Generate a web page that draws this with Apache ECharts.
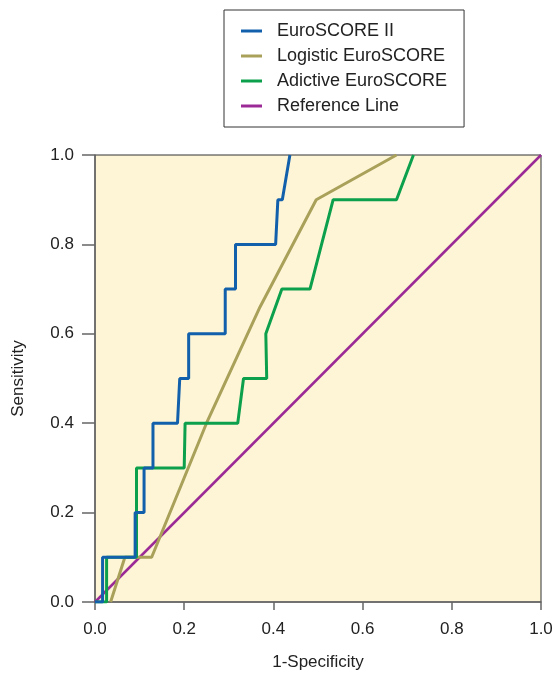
<!DOCTYPE html>
<html>
<head>
<meta charset="utf-8">
<script src="https://cdn.jsdelivr.net/npm/echarts@6/dist/echarts.min.js"></script>
<style>html,body{margin:0;padding:0;background:#fff}#c{width:552px;height:673px}</style>
</head>
<body>
<div id="c"></div>
<script>
var seriesNames = ['EuroSCORE II', 'Logistic EuroSCORE', 'Adictive EuroSCORE', 'Reference Line'];
var ticks = [0, 0.2, 0.4, 0.6, 0.8, 1.0];

var euro2X = [0, 0.017, 0.017, 0.09, 0.09, 0.11, 0.11, 0.13, 0.13, 0.185, 0.19, 0.21, 0.21, 0.292, 0.292, 0.315, 0.315, 0.405, 0.41, 0.42, 0.437];
var euro2Y = [0, 0, 0.1, 0.1, 0.2, 0.2, 0.3, 0.3, 0.4, 0.4, 0.5, 0.5, 0.6, 0.6, 0.7, 0.7, 0.8, 0.8, 0.9, 0.9, 1.0];

var logX = [0.035, 0.067, 0.127, 0.198, 0.25, 0.37, 0.496, 0.676];
var logY = [0, 0.1, 0.1, 0.273, 0.4, 0.66, 0.9, 1.0];

var addX = [0, 0.026, 0.026, 0.093, 0.093, 0.2, 0.202, 0.32, 0.333, 0.385, 0.383, 0.419, 0.482, 0.534, 0.676, 0.714];
var addY = [0, 0, 0.1, 0.1, 0.3, 0.3, 0.4, 0.4, 0.5, 0.5, 0.6, 0.7, 0.7, 0.9, 0.9, 1.0];

var refX = [0, 1];
var refY = [0, 1];

var colors = ['#1260AC', '#A9A05A', '#0CA04C', '#9B2A96'];

function zip(xs, ys) { return xs.map(function (x, i) { return [x, ys[i]]; }); }

var chart = echarts.init(document.getElementById('c'), null, {renderer: 'canvas'});
var fontFam = 'Liberation Sans, Arial, sans-serif';
chart.setOption({
  animation: false,
  backgroundColor: '#ffffff',
  color: colors,
  legend: {
    orient: 'vertical',
    left: 224, top: 10,
    padding: [12, 17, 12, 17],
    itemGap: 7,
    itemWidth: 21, itemHeight: 3,
    icon: 'rect',
    borderColor: '#333', borderWidth: 1,
    textStyle: {fontSize: 18, color: '#222', fontFamily: fontFam, padding: [0, 0, 0, 10]},
    data: seriesNames
  },
  grid: {left: 95, right: 11, top: 155, bottom: 71, outerBoundsMode: 'none', containLabel: false, show: true, backgroundColor: '#FDF5D6', borderColor: '#333', borderWidth: 1},
  xAxis: {
    type: 'value', min: 0, max: 1, interval: 0.2,
    name: '1-Specificity', nameLocation: 'middle', nameGap: 52,
    nameTextStyle: {fontSize: 17, color: '#222', fontFamily: fontFam},
    axisLine: {show: true, lineStyle: {color: '#666', width: 1.5}},
    axisTick: {show: true, length: 8, lineStyle: {color: '#666', width: 1.5}},
    axisLabel: {margin: 19, fontSize: 17, color: '#222', fontFamily: fontFam, formatter: function (v) { return v.toFixed(1); }},
    splitLine: {show: false}
  },
  yAxis: {
    type: 'value', min: 0, max: 1, interval: 0.2,
    name: 'Sensitivity', nameLocation: 'middle', nameGap: 68,
    nameTextStyle: {fontSize: 17, color: '#222', fontFamily: fontFam},
    axisLine: {show: true, lineStyle: {color: '#666', width: 1.5}},
    axisTick: {show: true, length: 13, lineStyle: {color: '#666', width: 1.5}},
    axisLabel: {margin: 21, fontSize: 17, color: '#222', fontFamily: fontFam, formatter: function (v) { return v.toFixed(1); }},
    splitLine: {show: false}
  },
  series: [
    {name: seriesNames[3], type: 'line', data: zip(refX, refY), showSymbol: false, lineStyle: {width: 2.5, color: colors[3]}, itemStyle: {color: colors[3]}, z: 2},
    {name: seriesNames[1], type: 'line', data: zip(logX, logY), showSymbol: false, lineStyle: {width: 3, color: colors[1]}, itemStyle: {color: colors[1]}, z: 3},
    {name: seriesNames[2], type: 'line', data: zip(addX, addY), showSymbol: false, lineStyle: {width: 3, color: colors[2]}, itemStyle: {color: colors[2]}, z: 4},
    {name: seriesNames[0], type: 'line', data: zip(euro2X, euro2Y), showSymbol: false, lineStyle: {width: 3, color: colors[0]}, itemStyle: {color: colors[0]}, z: 5}
  ]
});
</script>
</body>
</html>
